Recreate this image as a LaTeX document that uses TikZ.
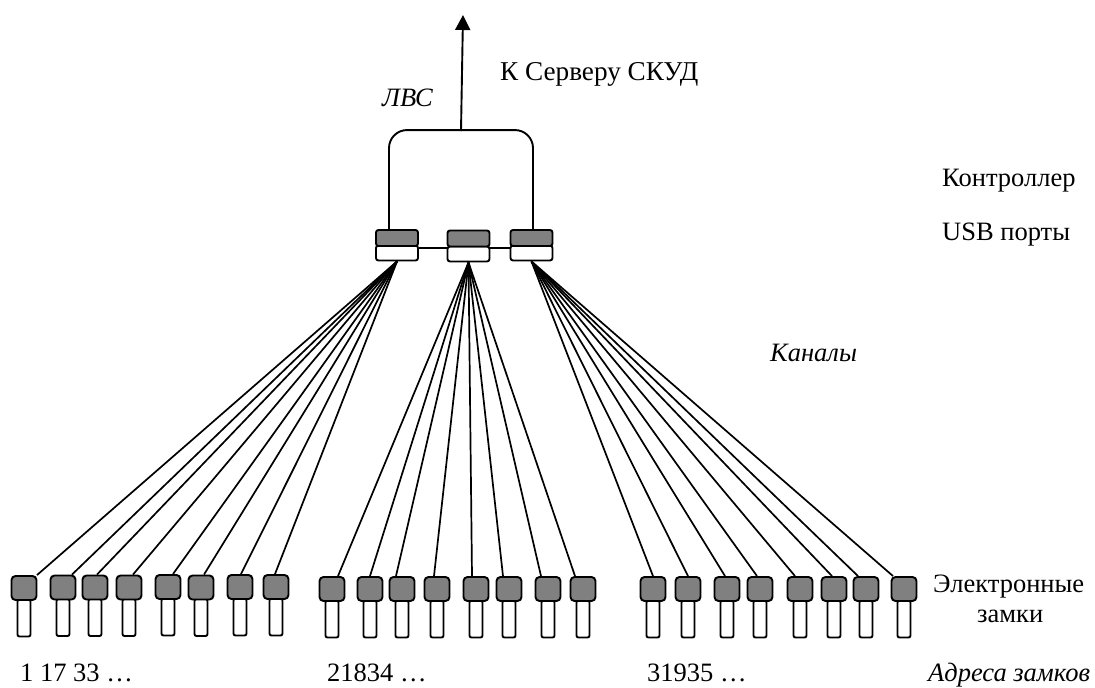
\documentclass[tikz,border=0pt]{standalone}
\usepackage{fontspec}
\setmainfont{Liberation Serif}
\usetikzlibrary{arrows.meta}
\tikzset{
  x=1pt,y=-1pt,
  ln/.style={line width=1.9pt,draw=black},
  head/.style={ln,fill=gray50,rounded corners=4pt,minimum width=25pt,minimum height=24pt,inner sep=0pt},
  tube/.style={ln,fill=white,rounded corners=2pt,minimum width=13pt,minimum height=37pt,inner sep=0pt},
  portg/.style={ln,fill=gray50,rounded corners=2.5pt,minimum width=42pt,minimum height=16pt,inner sep=0pt},
  portw/.style={ln,fill=white,rounded corners=2.5pt,minimum width=42pt,minimum height=15pt,inner sep=0pt},
  wire/.style={line width=1.7pt,draw=black},
  lab/.style={font=\fontsize{26.5}{28}\selectfont,inner sep=0pt,anchor=base west},
  labi/.style={lab,font=\fontsize{26.5}{28}\selectfont\itshape},
}
\definecolor{gray50}{HTML}{808080}
\begin{document}
\begin{tikzpicture}
\useasboundingbox (0,0) rectangle (1095,688);
% ports
\node[portw] (w1) at (397,253) {};
\node[portg] (g1) at (397,238) {};
\node[portw] (w2) at (468.5,254) {};
\node[portg] (g2) at (468.5,238.5) {};
\node[portw] (w3) at (531.5,253) {};
\node[portg] (g3) at (531.5,238) {};
\draw[ln] (w1.east |- 0,248) -- (w2.west |- 0,248);
\draw[ln] (w2.east |- 0,248) -- (w3.west |- 0,248);
% controller
\coordinate (top) at (461,131);
\coordinate (srv) at (463,15);
\draw[ln,rounded corners=18pt] ([xshift=-8]g1.north) -- ++(0,-99) -- ++(144,0) -- ([xshift=1.5]g3.north);
\draw[ln,-{Triangle[length=15pt,width=15pt]}] (top) -- (srv);
% locks: group a
\foreach \i/\c/\t/\yy in {1/24/13/588,2/63/9/587.5,3/95/2/587.5,4/129/4/587.5,5/168/5/587,6/201/3/587.5,7/240/1/587,8/276/-1/587}{
  \node[tube] (ta\i) at (\c,\yy+30) {};
  \node[head] (a\i) at (\c,\yy) {};
  \draw[wire] (w1.south) -- ([xshift=\t]a\i.north);
}
\foreach \i/\c/\t in {1/332/6,2/370/0,3/402/-6,4/437/-3,5/476/-4,6/509/-6,7/548/-7,8/583/-8}{
  \node[tube] (tb\i) at (\c,619) {};
  \node[head] (b\i) at (\c,589) {};
  \draw[wire] (w2.south) -- ([xshift=\t]b\i.north);
}
\foreach \i/\c/\t in {1/653/0,2/688/0,3/727/-2,4/760/-3,5/800/-5,6/834/-2,7/866/-8,8/904/-11}{
  \node[tube] (tc\i) at (\c,619) {};
  \node[head] (c\i) at (\c,589) {};
  \draw[wire] (w3.south) -- ([xshift=\t]c\i.north);
}
% labels
\node[labi] (lvs) at (382,106) {ЛВС};
\node[lab,font=\fontsize{27.2}{28}\selectfont] (srvt) at (500,80) {К Серверу СКУД};
\node[lab] (ctl) at (942,186) {Контроллер};
\node[lab] (usb) at (942,240) {USB порты};
\node[labi] (chn) at (770,361) {Каналы};
\node[lab] (el1) at (933,592) {Электронные};
\node[lab] (el2) at (977,622) {замки};
\node[lab] (ad1) at (20,681.5) {1 17 33 …};
\node[lab] (ad2) at (327,681.5) {21834 …};
\node[lab] (ad3) at (647,681.5) {31935 …};
\node[labi] (ad4) at (928,681.5) {Адреса замков};
\end{tikzpicture}
\end{document}
